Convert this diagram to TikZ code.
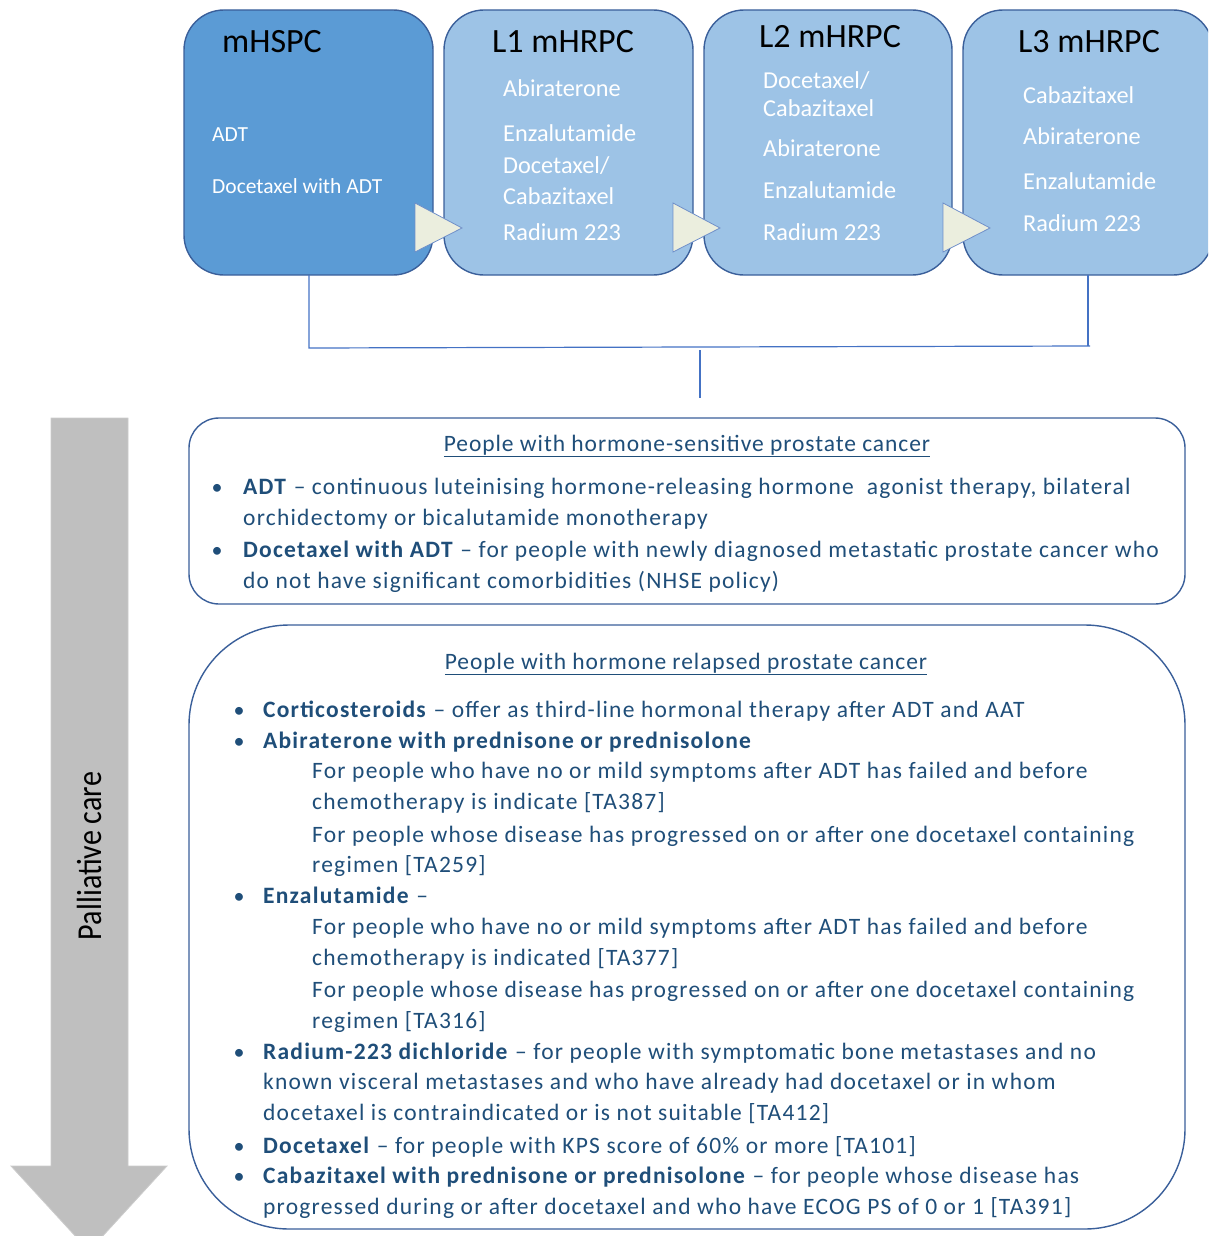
\documentclass[tikz,border=0pt]{standalone}
\usepackage{fontspec}
\setmainfont{Carlito}
\newfontfamily\narrowfont[FakeStretch=0.86]{Carlito}
\newfontfamily\bodyfont[LetterSpace=5.2]{Carlito}
\newfontfamily\titlefont[LetterSpace=4]{Carlito}
\definecolor{darkfill}{HTML}{5B9BD5}
\definecolor{lightfill}{HTML}{9DC3E6}
\definecolor{boxborder}{HTML}{3A5F9A}
\definecolor{trifill}{HTML}{EBEEDE}
\definecolor{triborder}{HTML}{6F8FC9}
\definecolor{connector}{HTML}{4472C4}
\definecolor{txt}{HTML}{1F4E79}
\definecolor{arrowgray}{HTML}{BFBFBF}
\newcommand\myline[4]{\node[ln] (#1) at (#2,#3) {#4};}
\begin{document}
\begin{tikzpicture}[x=1pt,y=-1pt,
  stagebox/.style={draw=boxborder,line width=1.4pt,rounded corners=40pt},
  tri/.style={draw=triborder,fill=trifill,line width=0.8pt},
  conn/.style={draw=connector,line width=1.2pt},
  infobox/.style={draw=boxborder,line width=1.4pt,fill=white},
  stitle/.style={anchor=base west,inner sep=0pt,font=\fontsize{34}{40}\selectfont,text=black},
  sitem/.style={anchor=base west,inner sep=0pt,font=\fontsize{24.3}{28}\selectfont,text=white},
  ln/.style={anchor=base west,inner sep=0pt,font=\bodyfont\fontsize{23.5}{28}\selectfont,text=txt},
  bul/.style={anchor=base,inner sep=0pt,font=\fontsize{22}{26}\selectfont,text=txt},
  ttl/.style={anchor=base,inner sep=0pt,font=\titlefont\fontsize{23.5}{28}\selectfont,text=txt}]
\useasboundingbox (0,0) rectangle (1208,1236);
\clip (0,0) rectangle (1208,1236);

% stage boxes
\path[stagebox,fill=darkfill] (184,10) rectangle (433,275);
\path[stagebox,fill=lightfill] (444,10) rectangle (693,275);
\path[stagebox,fill=lightfill] (704,10) rectangle (952,275);
\path[stagebox,fill=lightfill] (963,10) rectangle (1213,275);

% arrowheads between stages
\path[tri] (415,203) -- (462,228) -- (415,252) -- cycle;
\path[tri] (673,203) -- (720,228) -- (673,252) -- cycle;
\path[tri] (943,203) -- (990,228) -- (943,252) -- cycle;

% titles
\node[stitle] (t1) at (222,53) {mHSPC};
\node[stitle] (t2) at (492,53) {L1 mHRPC};
\node[stitle] (t3) at (759,48) {L2 mHRPC};
\node[stitle] (t4) at (1018,53) {L3 mHRPC};

% stage items
\node[sitem,font=\fontsize{21.5}{25}\selectfont] (a1) at (212,141) {ADT};
\node[sitem,font=\fontsize{21.5}{25}\selectfont] (a2) at (212,193) {Docetaxel with ADT};

\node[sitem] (b1) at (503,97) {Abiraterone};
\node[sitem] (b2) at (503,141) {Enzalutamide};
\node[sitem] (b3) at (503,173) {Docetaxel/};
\node[sitem] (b4) at (503,204) {Cabazitaxel};
\node[sitem] (b5) at (503,240) {Radium 223};

\node[sitem] (c1) at (763,89) {Docetaxel/};
\node[sitem] (c2) at (763,117) {Cabazitaxel};
\node[sitem] (c3) at (763,156) {Abiraterone};
\node[sitem] (c4) at (763,198) {Enzalutamide};
\node[sitem] (c5) at (763,240) {Radium 223};

\node[sitem] (d1) at (1023,103) {Cabazitaxel};
\node[sitem] (d2) at (1023,145) {Abiraterone};
\node[sitem] (d3) at (1023,189) {Enzalutamide};
\node[sitem] (d4) at (1023,231) {Radium 223};

% connectors
\coordinate (s1) at (309,275);
\coordinate (j1) at (309,348);
\coordinate (j2) at (1090,346);
\coordinate (s4) at (1088,275);
\coordinate (j4) at (1088,346);
\coordinate (m1) at (700,350);
\coordinate (m2) at (700,398);
\draw[conn] (s1) -- (j1) -- (j2);
\draw[conn] (s4) -- (j4);
\draw[conn] (m1) -- (m2);

% palliative care arrow
\path[fill=arrowgray,draw=arrowgray!80!white,line width=0.8pt]
  (51,418) -- (128,418) -- (128,1166) -- (167,1166) -- (89,1251) -- (11,1166) -- (51,1166) -- cycle;
\node[rotate=90,inner sep=0pt,font=\narrowfont\fontsize{35}{40}\selectfont,text=black] (pc) at (89,856) {Palliative care};

% hormone-sensitive box
\draw[infobox,rounded corners=30pt] (189,418) rectangle (1185,604);
\node[ttl] (ht) at (687,451) {\underline{People with hormone-sensitive prostate cancer}};
\node[bul] (hb1) at (217,494) {•};
\node[bul] (hb2) at (217,557) {•};
\myline{h1}{243}{494}{\textbf{ADT} – continuous luteinising hormone-releasing hormone \ agonist therapy, bilateral}
\myline{h2}{243}{525}{orchidectomy or bicalutamide monotherapy}
\myline{h3}{243}{557}{\textbf{Docetaxel with ADT} – for people with newly diagnosed metastatic prostate cancer who}
\myline{h4}{243}{588}{do not have significant comorbidities (NHSE policy)}

% hormone-relapsed box
\draw[infobox,rounded corners=100pt] (189,625) rectangle (1185,1229);
\node[ttl] (rt) at (686,669) {\underline{People with hormone relapsed prostate cancer}};
\node[bul] (rb1) at (239,717) {•};
\node[bul] (rb2) at (239,748) {•};
\node[bul] (rb3) at (239,903) {•};
\node[bul] (rb4) at (239,1059) {•};
\node[bul] (rb5) at (239,1153) {•};
\node[bul] (rb6) at (239,1183) {•};
\myline{r1}{263}{717}{\textbf{Corticosteroids} – offer as third-line hormonal therapy after ADT and AAT}
\myline{r2}{263}{748}{\textbf{Abiraterone with prednisone or prednisolone}}
\myline{r3}{312}{778}{For people who have no or mild symptoms after ADT has failed and before}
\myline{r4}{312}{809}{chemotherapy is indicate [TA387]}
\myline{r5}{312}{842}{For people whose disease has progressed on or after one docetaxel containing}
\myline{r6}{312}{872}{regimen [TA259]}
\myline{r7}{263}{903}{\textbf{Enzalutamide} –}
\myline{r8}{312}{934}{For people who have no or mild symptoms after ADT has failed and before}
\myline{r9}{312}{965}{chemotherapy is indicated [TA377]}
\myline{r10}{312}{997}{For people whose disease has progressed on or after one docetaxel containing}
\myline{r11}{312}{1028}{regimen [TA316]}
\myline{r12}{263}{1059}{\textbf{Radium-223 dichloride} – for people with symptomatic bone metastases and no}
\myline{r13}{263}{1089}{known visceral metastases and who have already had docetaxel or in whom}
\myline{r14}{263}{1120}{docetaxel is contraindicated or is not suitable [TA412]}
\myline{r15}{263}{1153}{\textbf{Docetaxel} – for people with KPS score of 60\% or more [TA101]}
\myline{r16}{263}{1183}{\textbf{Cabazitaxel with prednisone or prednisolone} – for people whose disease has}
\myline{r17}{263}{1214}{progressed during or after docetaxel and who have ECOG PS of 0 or 1 [TA391]}
\end{tikzpicture}
\end{document}
